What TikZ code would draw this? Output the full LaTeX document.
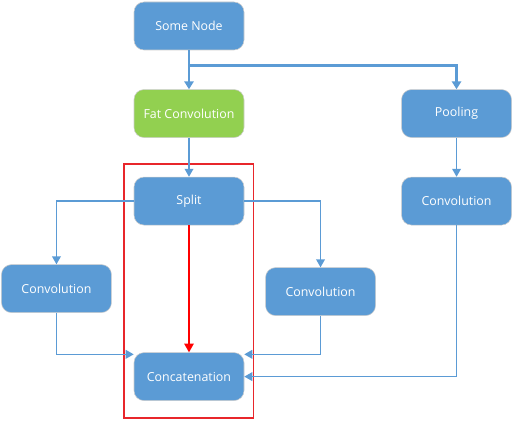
\documentclass[tikz,border=0pt]{standalone}
\usepackage{fontspec}
\setmainfont{Open Sans}
\usetikzlibrary{arrows.meta,positioning}
\definecolor{boxblue}{HTML}{5B9BD5}
\definecolor{boxgreen}{HTML}{92D050}
\definecolor{linkblue}{HTML}{5B9BD5}
\definecolor{framered}{HTML}{E8262B}
\begin{document}
\begin{tikzpicture}[node distance= 29.25pt,
    box/.style={rounded corners= 7.5pt, fill= boxblue, draw= black!20,
      minimum width= 82.5pt, minimum height= 36pt, text= white,
      font= \fontsize{9.3}{11}\selectfont, inner sep= 0pt},
    link/.style={draw= linkblue, line width= 1.1pt, -{Triangle[length= 6pt, width= 6.5pt]}},
    fatlink/.style={draw= linkblue, line width= 2.2pt, -{Triangle[length= 6pt, width= 7pt]}}]
      \useasboundingbox (0,0) rectangle (384.75pt,-318pt);
      \node[box] (some) at (141.75pt,-19.5pt) {Some Node};
      \node[box, fill= boxgreen] (fat) [below= of some] {Fat Convolution};
      \node[box] (pool) [right= 117.75pt of fat] {Pooling};
      \node[box] (split) [below= of fat] {Split};
      \node[box] (convd) [below= of pool] {Convolution};
      \node[box] (conva) [below left= 29.25pt and 16.5pt of split] {Convolution};
      \node[box] (convb) [below right= 31.5pt and 15.75pt of split] {Convolution};
      \node[box] (concat) [below= 95.25pt of split] {Concatenation};
      % outline round the split path
      \coordinate (frametl) at ([xshift= -7.5pt, yshift= 9.75pt]split.north west);
      \coordinate (framebr) at ([xshift= 7pt, yshift= -12.75pt]concat.south east);
      \draw[framered, line width= 1.3pt] (frametl) rectangle (framebr);
      \draw[fatlink] (some) -- (fat);
      \draw[fatlink] ([yshift= -11.25pt]some.south) -| (pool);
      \draw[link] (fat) -- (split);
      \draw[link] (pool) -- (convd);
      \draw[link] (split) -| (conva);
      \draw[link] (split) -| (convb);
      \draw[link, draw= red, -{Triangle[length= 6.5pt, width= 7pt, fill= red]}] (split) -- (concat);
      \draw[link] (conva) |- ([yshift= -1.5pt]concat.north west);
      \draw[link] (convb) |- ([yshift= -1.5pt]concat.north east);
      \draw[link] (convd) |- (concat);
    \end{tikzpicture}
\end{document}
